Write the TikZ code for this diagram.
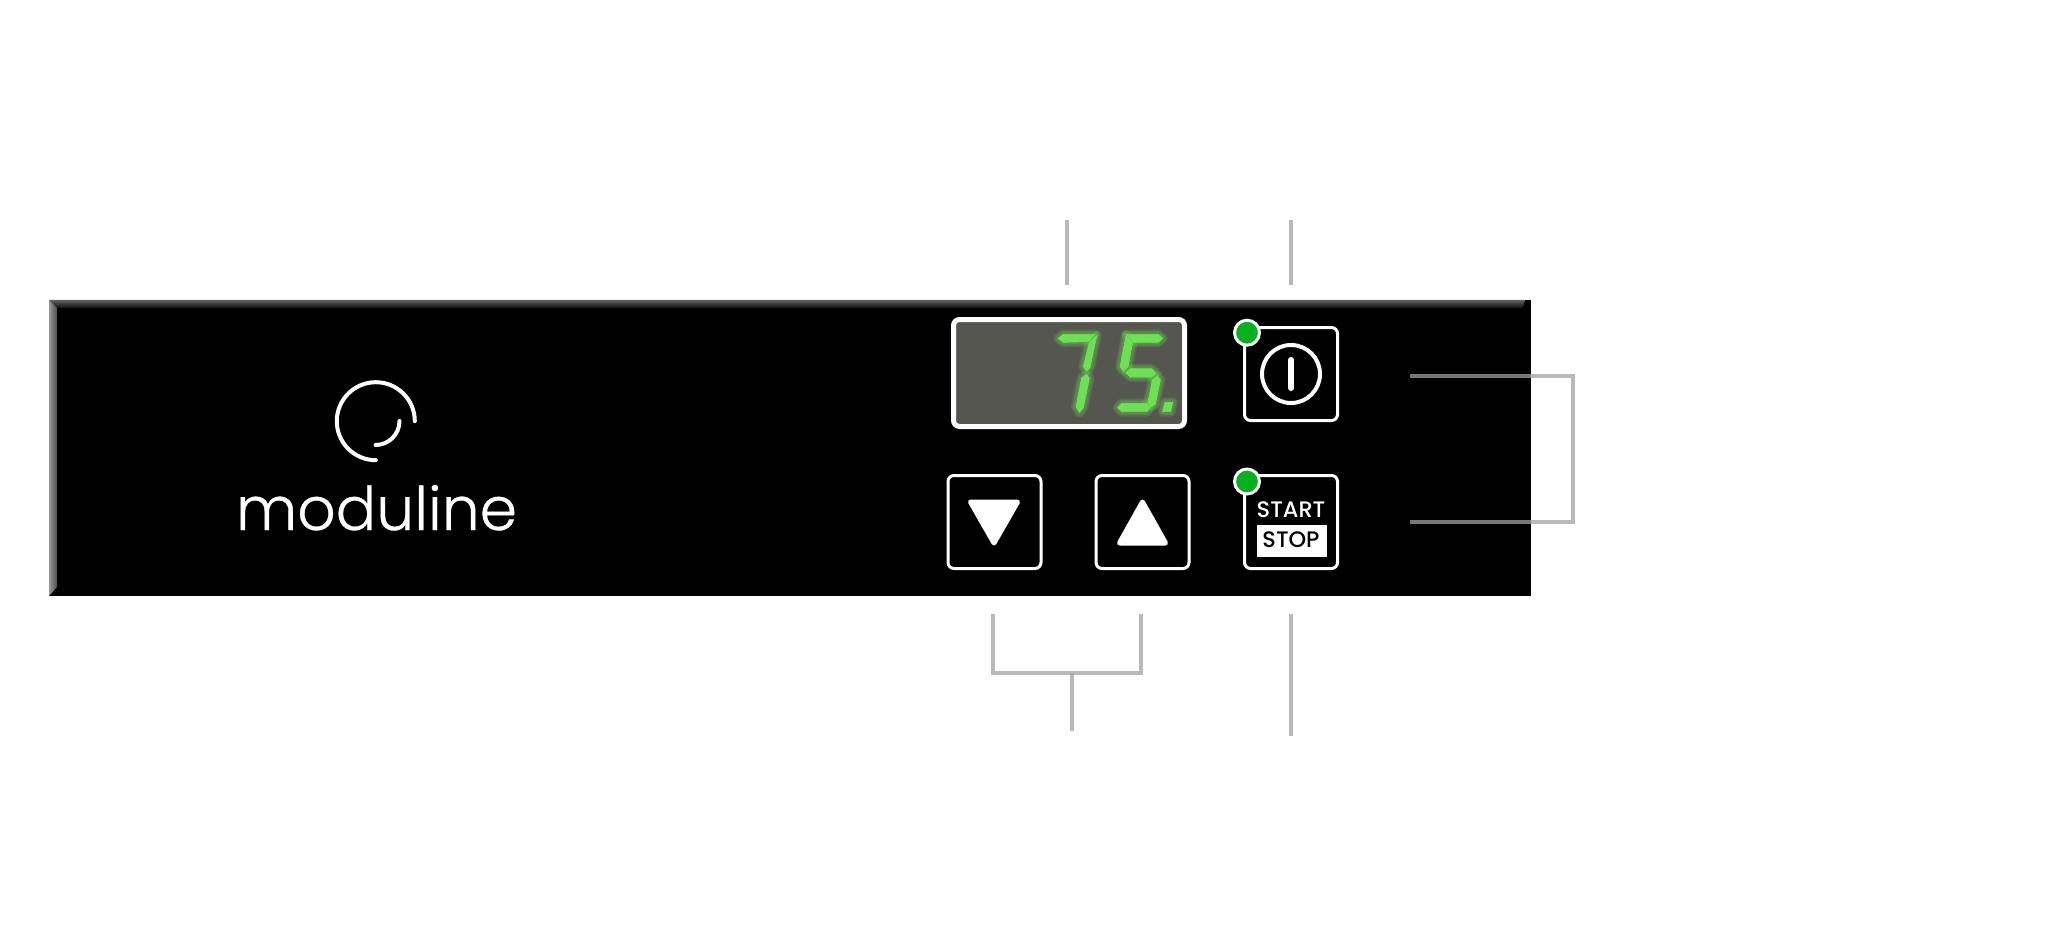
\documentclass[tikz,border=0pt]{standalone}
\usepackage{fontspec}
\newfontfamily\logofont[FakeBold=0.6]{Poppins Light}
\newfontfamily\keyfont{Poppins Medium}
\definecolor{leadgray}{HTML}{A1A1A1}
\definecolor{lcdgray}{HTML}{555650}
\definecolor{ledgreen}{HTML}{08B020}
\definecolor{seggreen}{HTML}{6FDF55}
\tikzset{
    keybox/.style={draw=white,line width=1.5pt,rounded corners=3pt,minimum size=46.5pt,inner sep=0pt},
    ledlamp/.style={circle,draw=white,fill=ledgreen,line width=1.5pt,minimum size=12.5pt,inner sep=0pt},
    leadline/.style={leadgray,opacity=0.74,line width=2pt},
    keylabel/.style={anchor=base,inner sep=0pt,font=\keyfont\fontsize{11.2pt}{12pt}\selectfont},
    arrowmark/.style={fill=white,draw=white,line width=2.5pt,line join=round},
    logoline/.style={white,line width=2pt,line cap=round},
}
\newcommand{\segment}[1]{%
    \foreach \w in {5,3.5,2} {
        \draw[seggreen,opacity=0.16,line width=\w pt,line join=round] #1 -- cycle;
    }
    \filldraw[seggreen,line width=0.3pt,line join=round] #1 -- cycle;
}
\begin{document}
\begin{tikzpicture}[x=0.5pt,y=0.5pt]
    \useasboundingbox (0,0) rectangle (2048,944);
    \fill[black] (49,348) rectangle (1531,644);
    \shade[top color=black!62,bottom color=black!95] (49,644) -- (1525,644) -- (1523,636) -- (57,636) -- cycle;
    \shade[left color=black!40,right color=black!70] (49,644) -- (57,636) -- (57,357) -- (49,348) -- cycle;

    \draw[logoline] (414.8,522.8) arc (0:270:39);
    \draw[logoline] (399.5,523) arc (0:-90:24);
    \node[anchor=base,inner sep=0pt,text=white,font=\logofont\fontsize{30pt}{31pt}\selectfont] (logoText) at (376.5,414) {moduline};

    \node[draw=white,fill=lcdgray,line width=2.5pt,rounded corners=3pt,minimum width=115.5pt,minimum height=53.5pt,inner sep=0pt] (lcd) at (1069,571) {};
    \begin{scope}[shift={(1040,639)},x=0.16667pt,y=-0.16667pt]
        \segment{(55,100) -- (70,88) -- (165,88) -- (145,110) -- (70,112)}
        \segment{(170,92) -- (148,112) -- (130,185) -- (140,198) -- (150,188)}
        \segment{(140,208) -- (125,218) -- (108,305) -- (118,322) -- (130,308) -- (148,220)}
        \segment{(258,88) -- (355,88) -- (368,100) -- (355,112) -- (282,112)}
        \segment{(258,92) -- (278,112) -- (264,185) -- (250,198) -- (240,185)}
        \segment{(258,203) -- (272,191) -- (335,191) -- (348,205) -- (335,216) -- (270,216)}
        \segment{(352,212) -- (361,225) -- (346,298) -- (332,305) -- (324,292) -- (337,225)}
        \segment{(233,308) -- (245,295) -- (320,295) -- (331,306) -- (320,320) -- (245,320)}
        \segment{(375,292) -- (398,292) -- (392,320) -- (368,320)}
    \end{scope}

    \node[keybox] (keyPower) at (1291,570) {};
    \foreach \name/\x in {keyDown/994.5,keyUp/1142.5,keyStart/1291} {
        \node[keybox] (\name) at (\x,422) {};
    }
    \node[ledlamp] (ledPower) at (1247,611.3) {};
    \node[ledlamp] (ledStart) at (1247,462.5) {};

    \node[circle,draw=white,line width=2pt,minimum size=29pt,inner sep=0pt] (powerRing) at (keyPower) {};
    \draw[white,line width=3pt,line cap=round] (1291,584) -- (1291,556);

    \fill[arrowmark] (970.5,442) -- (1017.5,442) -- (994,401) -- cycle;
    \fill[arrowmark] (1142.5,442) -- (1119.5,401) -- (1165.5,401) -- cycle;

    \node[keylabel,text=white] (startText) at (1291,426.5) {START};
    \node[fill=white,minimum width=35pt,minimum height=16pt,inner sep=0pt] (stopBox) at (1292,403.3) {};
    \node[keylabel,text=black] (stopText) at (1291,396.3) {STOP};

    \coordinate (lcdTop) at (1066.7,724);
    \coordinate (lcdEnd) at (1066.7,659);
    \coordinate (powerTop) at (1291,724);
    \coordinate (powerEnd) at (1291,659);
    \draw[leadline] (lcdTop) -- (lcdEnd);
    \draw[leadline] (powerTop) -- (powerEnd);

    \coordinate (rowUpper) at (1410,568);
    \coordinate (rowLower) at (1410,422.3);
    \coordinate (bendUpper) at (1572.5,568);
    \coordinate (bendLower) at (1572.5,422.3);
    \draw[leadline] (rowUpper) -- (bendUpper) -- (bendLower) -- (rowLower);

    \coordinate (downEnd) at (992.7,330);
    \coordinate (downBend) at (992.7,270.7);
    \coordinate (upEnd) at (1141,330);
    \coordinate (upBend) at (1141,270.7);
    \coordinate (forkTop) at (1071.7,270.7);
    \coordinate (forkEnd) at (1071.7,213);
    \draw[leadline] (downEnd) -- (downBend) -- (upBend) -- (upEnd);
    \draw[leadline] (forkTop) -- (forkEnd);

    \coordinate (startEnd) at (1291,330);
    \coordinate (startLow) at (1291,208);
    \draw[leadline] (startEnd) -- (startLow);
\end{tikzpicture}
\end{document}
